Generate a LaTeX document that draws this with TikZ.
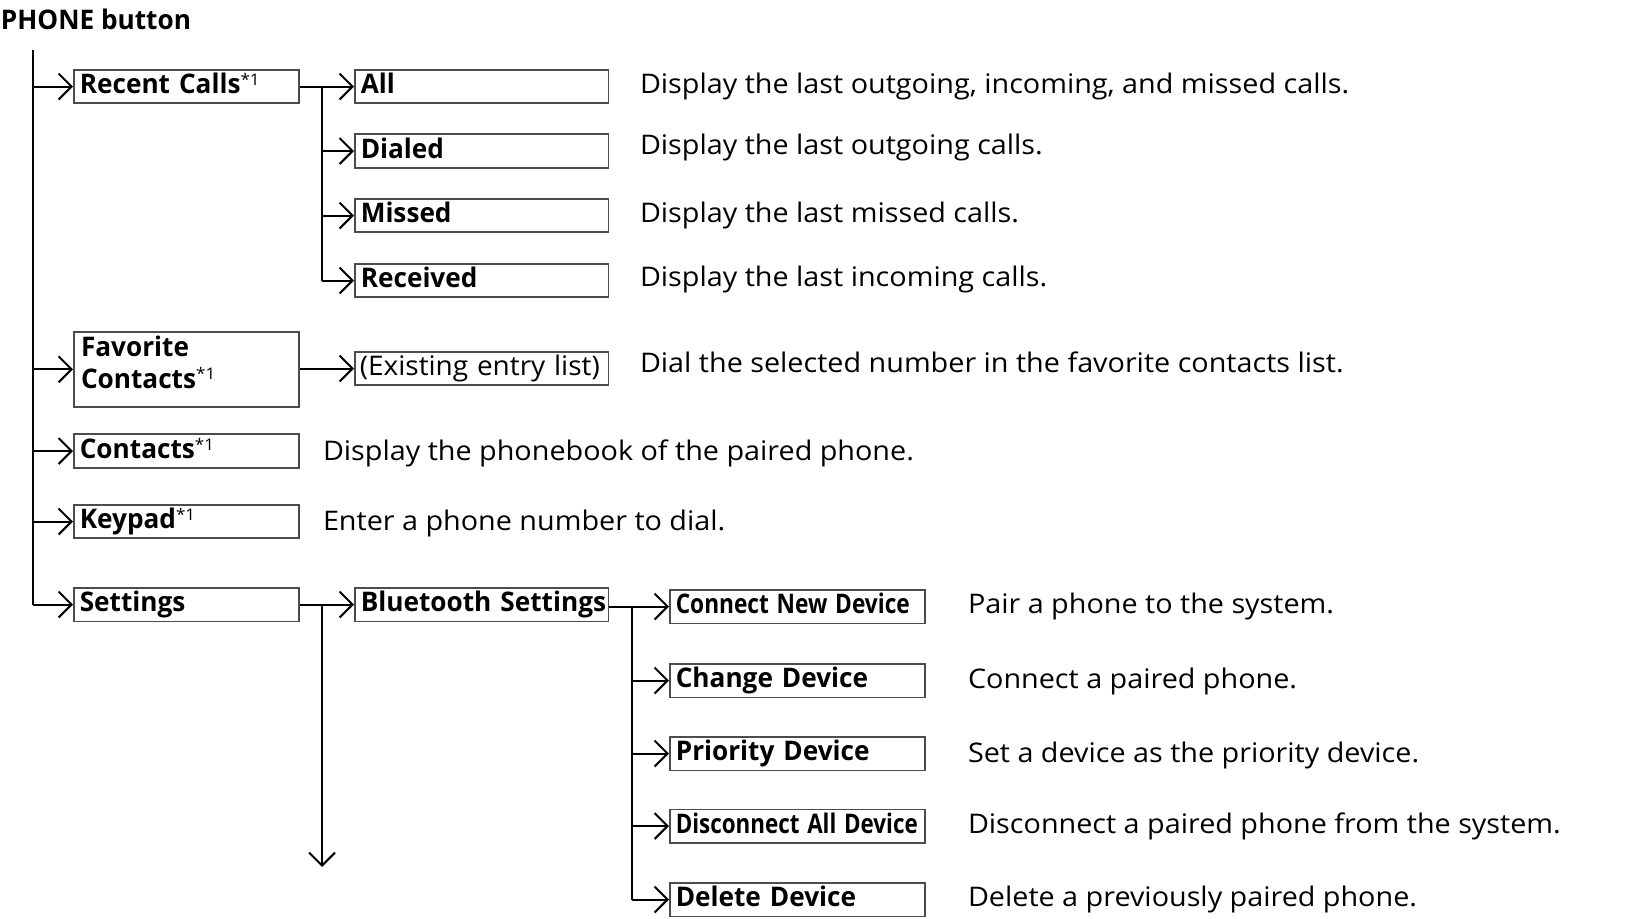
\documentclass[tikz,border=0pt]{standalone}
\usepackage{fontspec}
\setmainfont{Open Sans}[FakeStretch=1.065,BoldFeatures={FakeStretch=.97}]
\usetikzlibrary{arrows.meta}
\newcommand{\txtsize}{\fontsize{13.5pt}{16pt}\selectfont}
\tikzset{
 box/.style={draw=black!70,line width=.8pt,anchor=north west,align=left,inner xsep=3pt,inner ysep=0pt,text height=12pt,text depth=4.75pt,font=\txtsize\bfseries},
 boxa/.style={box,text width=106.5pt},
 boxb/.style={box,text width=120.75pt},
 boxc/.style={box,text width=121.5pt},
 desc/.style={anchor=base west,inner sep=0pt,font=\txtsize},
 arr/.style={-{Straight Barb[length=6.5pt,width=13pt]}},
}
\newcommand{\fn}{\raisebox{.3em}{\fontsize{8pt}{8pt}\selectfont\mdseries*1}}
\newcommand{\squeeze}[2]{\resizebox{#1}{\height}{#2}}
\begin{document}
\begin{tikzpicture}[x=.5pt,y=-.5pt,line width=1pt]
\useasboundingbox(0,0)rectangle(1634,919);
\node[desc,font=\txtsize\bfseries](title)at(0,30){PHONE button};
% first level
\node[boxa](rc)at(73,69){Recent Calls\fn};
\node[boxa,minimum height=37.5pt](fav)at(73,331){};
\node[anchor=north west,align=left,inner sep=0pt,font=\txtsize\bfseries](favtxt)at(80,334.5){Favorite\\Contacts\fn};
\node[boxa](con)at(73,433.5){Contacts\fn};
\node[boxa](key)at(73,504){Keypad\fn};
\node[boxa](set)at(73,587){Settings};
% second level
\node[boxb](all)at(354,69){All};
\node[boxb](dia)at(354,133.5){Dialed};
\node[boxb](mis)at(354,198){Missed};
\node[boxb](rcv)at(354,263){Received};
\node[boxb,inner xsep=2.5pt,text width=121.75pt](ext)at(354,351){\mdseries\squeeze{120pt}{(Existing entry list)}};
\node[boxb](bt)at(354,587){\mbox{Bluetooth Settings}};
% bluetooth items
\node[boxc](cnd)at(669,589){\squeeze{117pt}{Connect New Device}};
\node[boxc](chg)at(669,663){Change Device};
\node[boxc](pri)at(669,736){Priority Device};
\node[boxc](dis)at(669,808.5){\squeeze{121pt}{Disconnect All Device}};
\node[boxc](del)at(669,882){Delete Device};
% descriptions
\node[desc](dall)at(639,94){Display the last outgoing, incoming, and missed calls.};
\node[desc](ddia)at(639,154.5){Display the last outgoing calls.};
\node[desc](dmis)at(639,223){Display the last missed calls.};
\node[desc](drcv)at(639,286.5){Display the last incoming calls.};
\node[desc](dext)at(639,373){Dial the selected number in the favorite contacts list.};
\node[desc](dcon)at(322,460.5){Display the phonebook of the paired phone.};
\node[desc](dkey)at(322,530.5){Enter a phone number to dial.};
\node[desc](dcnd)at(967,613){Pair a phone to the system.};
\node[desc](dchg)at(967,688){Connect a paired phone.};
\node[desc](dpri)at(967,762){Set a device as the priority device.};
\node[desc](ddis)at(967,833){Disconnect a paired phone from the system.};
\node[desc](ddel)at(967,906.5){Delete a previously paired phone.};
% connectors
\coordinate(top)at(33,50);
\coordinate(sub)at(322,0);
\coordinate(dev)at(632,0);
\coordinate(more)at(322,867);
\draw(top)--(top|-set.west);
\foreach\n in{rc,fav,con,key,set}
 \draw[arr](top|-\n.west)--(\n.west);
\draw(sub|-rc.east)--(sub|-rcv.west);
\draw[arr](rc.east)--(all.west);
\foreach\n in{dia,mis,rcv}
 \draw[arr](sub|-\n.west)--(\n.west);
\draw[arr](fav.east|-ext.west)--(ext.west);
\draw[arr](set.east)--(bt.west);
\draw[arr](sub|-set.east)--(more);
\draw[arr](bt.east|-cnd.west)--(cnd.west);
\draw(dev|-cnd.west)--(dev|-del.west);
\foreach\n in{chg,pri,dis,del}
 \draw[arr](dev|-\n.west)--(\n.west);
\end{tikzpicture}
\end{document}
